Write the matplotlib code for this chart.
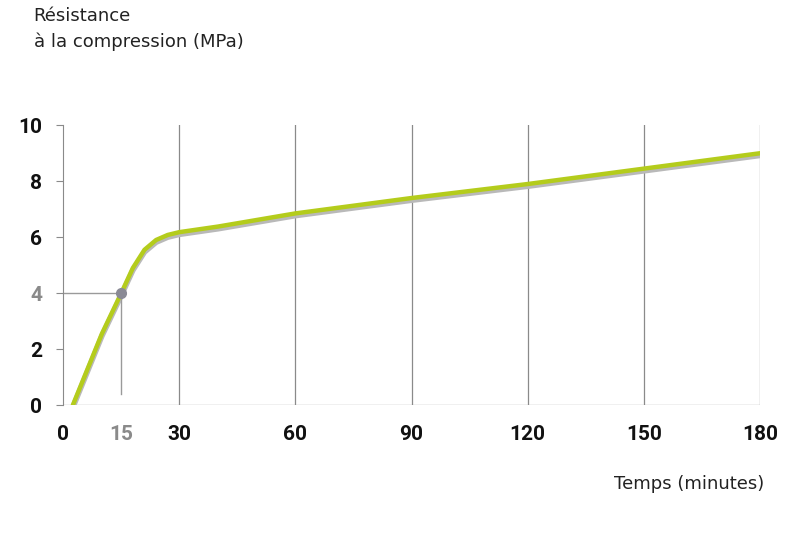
import matplotlib
matplotlib.use("Agg")
import matplotlib.pyplot as plt

time_min = [2.5, 10, 15, 18, 21, 24, 27, 30, 40, 60, 90, 120, 150, 180]
strength = [0.0, 2.55, 4.0, 4.9, 5.55, 5.9, 6.08, 6.18, 6.38, 6.85, 7.4, 7.9, 8.45, 9.0]
x_ticks = [0, 15, 30, 60, 90, 120, 150, 180]
y_ticks = [0, 2, 4, 6, 8, 10]
highlight = (15, 4)

fig = plt.figure(figsize=(8, 5.33), dpi=100)
ax = fig.add_axes([0.079, 0.240, 0.871, 0.525])
ax.set_xlim(0, 180)
ax.set_ylim(0, 10)

for v in [30, 60, 90, 120, 150, 180]:
    ax.axvline(v, color="#8a8a8a", lw=0.9, zorder=0)

ax.plot(time_min, [s - 0.08 for s in strength], color="#b9b9b9", lw=4, solid_capstyle="round", zorder=1)
ax.plot(time_min, strength, color="#b4cc1c", lw=3.2, solid_capstyle="round", zorder=2)

hx, hy = highlight
ax.plot([0, hx], [hy, hy], color="#9a9a9a", lw=1, zorder=1.5, clip_on=False)
ax.plot([hx, hx], [0.4, hy], color="#9a9a9a", lw=1, zorder=1.5)
ax.plot([hx], [hy], "o", color="#8a8a95", ms=7, zorder=3)

for s in ["top", "right", "bottom"]:
    ax.spines[s].set_visible(False)
ax.spines["left"].set_color("#8a8a8a")
ax.axhline(0, color="#8a8a8a", lw=0.9, zorder=0)

ax.set_xticks(x_ticks)
ax.set_yticks(y_ticks)
ax.tick_params(axis="x", length=0, pad=14, labelsize=15)
ax.tick_params(axis="y", length=5, color="#8a8a8a", pad=10, labelsize=15)
for lab in ax.get_xticklabels() + ax.get_yticklabels():
    lab.set_fontweight("bold")
    lab.set_fontfamily("Roboto")
    lab.set_color("#111111")
    if lab.get_text() in ("15", "4"):
        lab.set_color("#8a8a8a")

fig.text(0.042, 0.905, "Résistance\nà la compression (MPa)", fontsize=13, color="#222222",
         va="bottom", ha="left", linespacing=1.5)
fig.text(0.955, 0.075, "Temps (minutes)", fontsize=13, color="#222222", ha="right", va="bottom")

fig.savefig("out.png", dpi=100)
